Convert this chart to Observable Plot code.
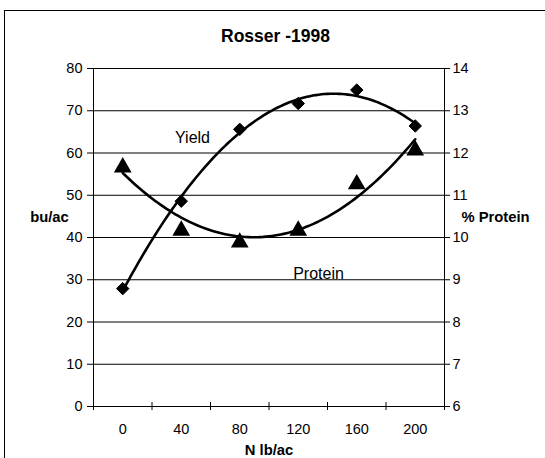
<!DOCTYPE html>
<html>
<head>
<meta charset="utf-8">
<script src="https://cdn.jsdelivr.net/npm/d3@7"></script>
<script src="https://cdn.jsdelivr.net/npm/@observablehq/plot@0.6"></script>
<style>
  html, body { margin: 0; padding: 0; background: #fff; }
  #wrap { position: relative; width: 545px; height: 458px; overflow: hidden; }
  #border { position: absolute; left: 4px; top: 10px; width: 700px; height: 600px;
            border-top: 1.5px solid #000; border-left: 1.5px solid #000; }
  #chart { position: absolute; left: 0; top: 0; }
</style>
</head>
<body>
<div id="wrap"><div id="border"></div><div id="chart"></div></div>
<script>
// Data
const nRates = [0, 40, 80, 120, 160, 200];          // N lb/ac
const yieldVals = [27.9, 48.6, 65.6, 71.7, 74.9, 66.4]; // bu/ac
const proteinVals = [11.71, 10.21, 9.93, 10.21, 11.31, 12.11]; // % protein
const leftTicks = [0, 10, 20, 30, 40, 50, 60, 70, 80];
const rightTicks = [6, 7, 8, 9, 10, 11, 12, 13, 14];
const title = "Rosser -1998";

// map protein (6..14) onto the left scale (0..80)
const p2y = p => (p - 6) * 10;
const y2p = y => y / 10 + 6;

// category band edges
const step = nRates[1] - nRates[0];
const edges = [nRates[0] - step / 2, ...nRates.map(d => d + step / 2)];

// quadratic least-squares trendline (like Excel's polynomial order 2)
function quadFit(xs, ys) {
  const n = xs.length;
  let s = [0, 0, 0, 0, 0], t = [0, 0, 0];
  for (let i = 0; i < n; i++) {
    const x = xs[i], y = ys[i];
    for (let k = 0; k < 5; k++) s[k] += Math.pow(x, k);
    for (let k = 0; k < 3; k++) t[k] += y * Math.pow(x, k);
  }
  const A = [[s[0], s[1], s[2], t[0]], [s[1], s[2], s[3], t[1]], [s[2], s[3], s[4], t[2]]];
  for (let i = 0; i < 3; i++) {
    let m = i;
    for (let r = i + 1; r < 3; r++) if (Math.abs(A[r][i]) > Math.abs(A[m][i])) m = r;
    [A[i], A[m]] = [A[m], A[i]];
    for (let r = 0; r < 3; r++) if (r !== i) {
      const f = A[r][i] / A[i][i];
      for (let c = i; c < 4; c++) A[r][c] -= f * A[i][c];
    }
  }
  const c = A.map((row, i) => row[3] / row[i]);
  return x => c[0] + c[1] * x + c[2] * x * x;
}
const fy = quadFit(nRates, yieldVals);
const fp = quadFit(nRates, proteinVals);
const xsFit = d3.range(nRates[0], nRates[nRates.length - 1] + 0.001, 2);

const yieldPts = nRates.map((n, i) => ({n, v: yieldVals[i]}));
const protPts = nRates.map((n, i) => ({n, v: p2y(proteinVals[i])}));
const yieldFit = xsFit.map(n => ({n, v: fy(n)}));
const protFit = xsFit.map(n => ({n, v: p2y(fp(n))}));

const font = "Liberation Sans, Arial, Helvetica, sans-serif";

const chart = Plot.plot({
  width: 545,
  height: 458,
  marginLeft: 93,
  marginRight: 101,
  marginTop: 68,
  marginBottom: 52,
  style: {fontFamily: font, fontSize: "14.5px", color: "#000", background: "transparent"},
  x: {domain: [edges[0], edges[edges.length - 1]]},
  y: {domain: [0, 80]},
  marks: [
    Plot.ruleY(leftTicks, {stroke: "#000", strokeWidth: 1}),
    Plot.ruleX([edges[0], edges[edges.length - 1]], {stroke: "#000", strokeWidth: 1}),
    Plot.ruleX(edges, {y1: 0, y2: 0, insetTop: -4, insetBottom: -4, stroke: "#000"}),
    Plot.axisY(leftTicks, {anchor: "left", tickSize: 6, tickPadding: 5, label: null, fontSize: 14.5}),
    Plot.axisY(leftTicks, {anchor: "right", tickSize: 5, tickPadding: 3, label: null,
      tickFormat: d => String(y2p(d)), fontSize: 14.5}),
    Plot.axisX(nRates, {tickSize: 0, tickPadding: 17, label: null, fontSize: 14.5}),
    Plot.line(yieldFit, {x: "n", y: "v", stroke: "#000", strokeWidth: 2.6}),
    Plot.line(protFit, {x: "n", y: "v", stroke: "#000", strokeWidth: 2.6}),
    Plot.dot(yieldPts, {x: "n", y: "v", symbol: "diamond2", r: 5.6, fill: "#000", stroke: "#000", strokeWidth: 1}),
    Plot.dot(protPts, {x: "n", y: "v", symbol: "triangle", r: 6.6, fill: "#000", stroke: "none", dy: 2}),
    Plot.text([title], {frameAnchor: "top", lineAnchor: "middle", dx: 6.5, dy: -32, fontSize: 17.5, fontWeight: "bold"}),
    Plot.text(["bu/ac"], {frameAnchor: "left", lineAnchor: "middle", dx: -44, dy: -20, textAnchor: "middle", fontSize: 14.8, fontWeight: "bold"}),
    Plot.text(["% Protein"], {frameAnchor: "right", lineAnchor: "middle", dx: 51, dy: -20, textAnchor: "middle", fontSize: 14.8, fontWeight: "bold"}),
    Plot.text(["N lb/ac"], {frameAnchor: "bottom", lineAnchor: "middle", dy: 44, fontSize: 14.8, fontWeight: "bold"}),
    Plot.text(["Yield"], {frameAnchor: "top-left", lineAnchor: "middle", dx: 99, dy: 69, textAnchor: "middle", fontSize: 16}),
    Plot.text(["Protein"], {frameAnchor: "top-left", lineAnchor: "middle", dx: 225, dy: 205, textAnchor: "middle", fontSize: 16})
  ]
});
document.getElementById("chart").appendChild(chart);
</script>
</body>
</html>
